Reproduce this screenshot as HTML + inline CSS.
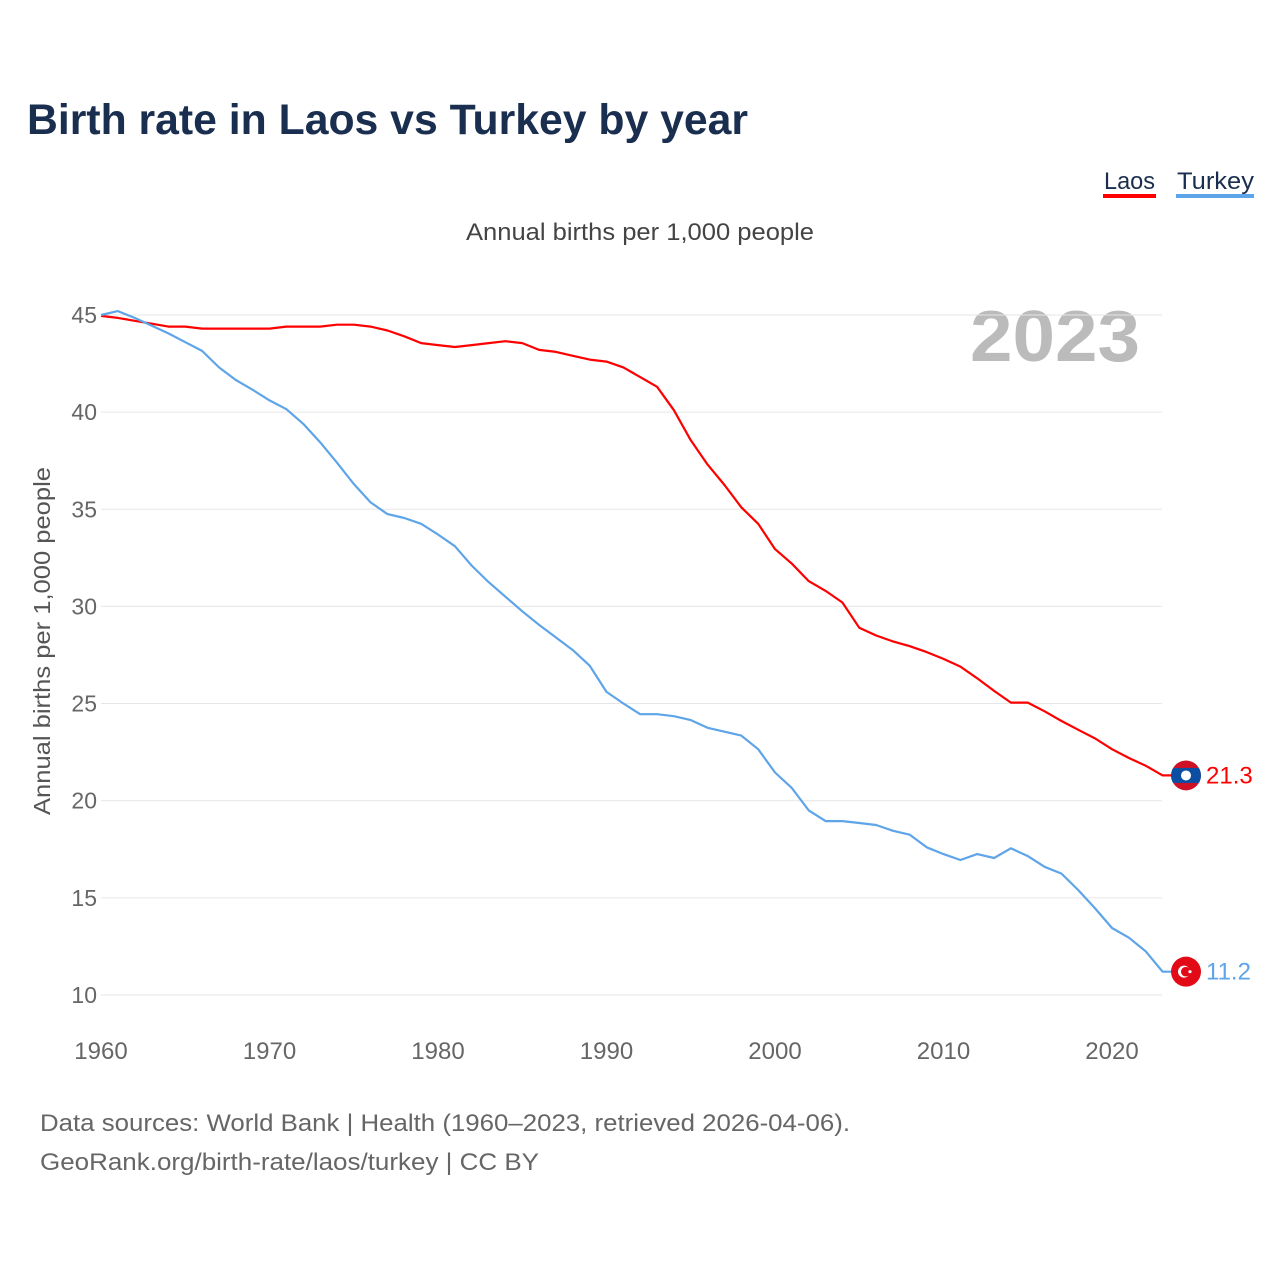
<!DOCTYPE html>
<html><head><meta charset="utf-8"><style>
body{margin:0;width:1280px;height:1280px;background:#fff;font-family:"Liberation Sans",sans-serif;overflow:hidden}
svg text{font-family:"Liberation Sans",sans-serif}
</style></head><body>
<svg id="chart" width="1280" height="1280">
<defs><clipPath id="flagclip"><circle cx="0" cy="0" r="15"/></clipPath></defs>
<text x="27" y="134" font-size="43" font-weight="bold" fill="#1a2e4f" textLength="721" lengthAdjust="spacingAndGlyphs">Birth rate in Laos vs Turkey by year</text>
<g><text x="1104" y="189" font-size="24" fill="#1a2e4f" textLength="51" lengthAdjust="spacingAndGlyphs">Laos</text><rect x="1103" y="194" width="53" height="4" fill="#ff0000"/></g>
<g><text x="1177" y="189" font-size="24" fill="#1a2e4f" textLength="77" lengthAdjust="spacingAndGlyphs">Turkey</text><rect x="1176" y="194" width="78" height="4" fill="#5ea4e8"/></g>
<text x="466" y="240" font-size="24" fill="#444" textLength="348" lengthAdjust="spacingAndGlyphs">Annual births per 1,000 people</text>
<text x="970" y="361" font-size="72" font-weight="bold" fill="#bbb" textLength="170" lengthAdjust="spacingAndGlyphs">2023</text>
<text transform="translate(50,815) rotate(-90)" font-size="23" fill="#555" textLength="348" lengthAdjust="spacingAndGlyphs">Annual births per 1,000 people</text>
<g id="grid"></g><g id="lines"></g>
<text x="40" y="1131" font-size="24" fill="#666" textLength="810" lengthAdjust="spacingAndGlyphs">Data sources: World Bank | Health (1960–2023, retrieved 2026-04-06).</text>
<text x="40" y="1170" font-size="24" fill="#666" textLength="499" lengthAdjust="spacingAndGlyphs">GeoRank.org/birth-rate/laos/turkey | CC BY</text>
</svg>
<script>
const years=[];for(let y=1960;y<=2023;y++)years.push(y);
const laos=[44.95,44.85,44.7,44.55,44.4,44.4,44.3,44.3,44.3,44.3,44.3,44.4,44.4,44.4,44.5,44.5,44.4,44.2,43.9,43.55,43.45,43.35,43.45,43.55,43.65,43.55,43.2,43.1,42.9,42.7,42.6,42.3,41.8,41.3,40.1,38.55,37.3,36.25,35.1,34.25,32.95,32.2,31.3,30.8,30.2,28.9,28.5,28.2,27.95,27.65,27.3,26.9,26.3,25.65,25.05,25.05,24.6,24.1,23.65,23.2,22.65,22.2,21.8,21.3];
const turkey=[45.0,45.2,44.85,44.45,44.05,43.6,43.15,42.3,41.65,41.15,40.6,40.15,39.4,38.45,37.4,36.3,35.35,34.75,34.55,34.25,33.7,33.1,32.1,31.25,30.5,29.75,29.05,28.4,27.75,26.95,25.6,25.0,24.45,24.45,24.35,24.15,23.75,23.55,23.35,22.65,21.45,20.65,19.5,18.95,18.95,18.85,18.75,18.45,18.25,17.6,17.25,16.95,17.25,17.05,17.55,17.15,16.6,16.25,15.4,14.45,13.45,12.95,12.25,11.2];
const yTicks=[10,15,20,25,30,35,40,45];
const xTicks=[1960,1970,1980,1990,2000,2010,2020];
const X=y=>101+(y-1960)*16.85, Y=v=>995-(v-10)*19.43;
const NS="http://www.w3.org/2000/svg";
const grid=document.getElementById('grid'),lines=document.getElementById('lines');
function mk(tag,a,p){const e=document.createElementNS(NS,tag);for(const k in a)e.setAttribute(k,a[k]);p.appendChild(e);return e;}
yTicks.forEach(t=>{
 const l=mk('line',{x1:101,x2:1162,y1:Y(t),y2:Y(t),stroke:'#e6e6e6','stroke-width':1},grid);
 
 
 const tx=mk('text',{x:97,y:Y(t)+8,'text-anchor':'end','font-size':23,fill:'#666'},grid);tx.textContent=t;
 
 
});
xTicks.forEach(t=>{
 const tx=mk('text',{x:X(t),y:1059,'text-anchor':'middle','font-size':24,fill:'#666'},grid);tx.textContent=t;
 
 
});
function series(d,c,name){
 const pts=d.map((v,i)=>X(years[i]).toFixed(1)+','+Y(v).toFixed(1));
 const last=d[d.length-1];pts.push('1172,'+Y(last).toFixed(1));
 const p=mk('polyline',{points:pts.join(' '),fill:'none',stroke:c,'stroke-width':2.2,'stroke-linejoin':'round'},lines);
 
 
 const tx=mk('text',{x:1206,y:Y(last)+8,'font-size':24,fill:c},lines);tx.textContent=last.toFixed(1);
 
 
 return Y(last);
}
const yl=series(laos,'#ff0000','laos');
const yt=series(turkey,'#5ea4e8','turkey');
const g1=mk('g',{transform:'translate(1186,'+yl+')','clip-path':'url(#flagclip)'},lines);


mk('circle',{cx:0,cy:0,r:15,fill:'#ce1126'},g1);
mk('rect',{x:-15,y:-7.5,width:30,height:15,fill:'#0b4ea2'},g1);
mk('circle',{cx:0,cy:0,r:5,fill:'#fff'},g1);
const g2=mk('g',{},lines);


mk('circle',{cx:1186,cy:yt,r:15,fill:'#e30a17'},g2);
mk('circle',{cx:1184,cy:yt,r:6,fill:'#fff'},g2);
mk('circle',{cx:1185.8,cy:yt,r:4.8,fill:'#e30a17'},g2);
mk('circle',{cx:1190,cy:yt,r:1.6,fill:'#fff'},g2);
</script>
</body></html>
